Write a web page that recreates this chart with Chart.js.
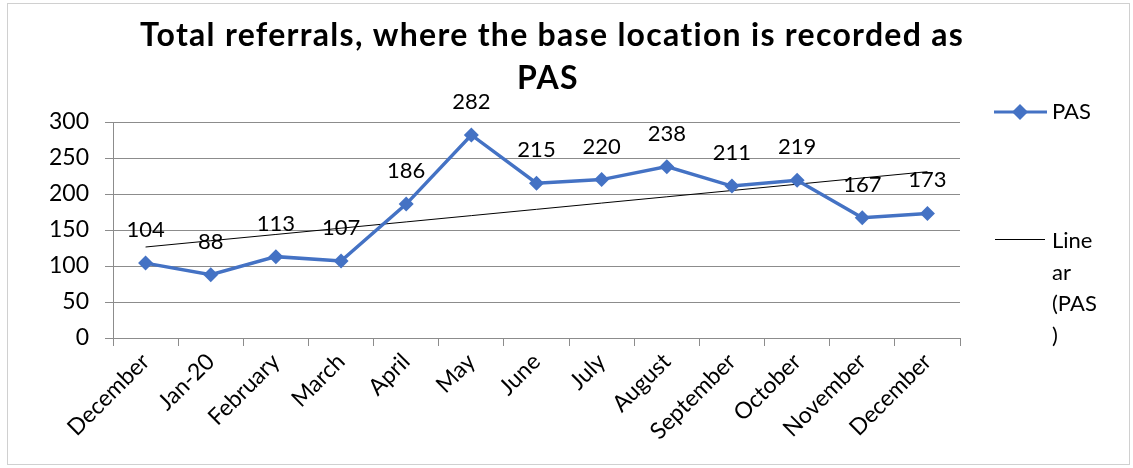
<!DOCTYPE html>
<html>
<head>
<meta charset="utf-8">
<script src="https://cdn.jsdelivr.net/npm/chart.js@4.4.1/dist/chart.umd.min.js"></script>
<style>
html,body{margin:0;padding:0;background:#fff;}
#wrap{width:1133px;height:468px;position:relative;}
</style>
</head>
<body>
<div id="wrap"><canvas id="c" width="1133" height="468"></canvas></div>
<script>
const categories = ["December","Jan-20","February","March","April","May","June","July","August","September","October","November","December"];
const pasValues = [104,88,113,107,186,282,215,220,238,211,219,167,173];
const yTicks = [0,50,100,150,200,250,300];
const titleLines = ["Total referrals, where the base location is recorded as","PAS"];
const legendPas = "PAS";
const legendTrendLines = ["Line","ar","(PAS",")"];

// Linear trendline (least squares) computed from the series, as Excel does
function linearTrend(vals){
  const n = vals.length;
  let sx=0, sy=0, sxy=0, sxx=0;
  vals.forEach((v,i)=>{sx+=i; sy+=v; sxy+=i*v; sxx+=i*i;});
  const b = (n*sxy - sx*sy)/(n*sxx - sx*sx);
  const a = (sy - b*sx)/n;
  return vals.map((_,i)=>a+b*i);
}
const trendValues = linearTrend(pasValues);

const FONT = "Lato, 'Liberation Sans', sans-serif";
const BLUE = "#4472C4";
const GRID = "#8c8c8c";

const framePlugin = {
  id:'frame',
  beforeDraw(chart){
    const ctx = chart.ctx;
    ctx.save();
    ctx.fillStyle = '#fff';
    ctx.fillRect(0,0,chart.width,chart.height);
    ctx.strokeStyle = '#d0d0d0';
    ctx.lineWidth = 1;
    ctx.strokeRect(7.5,3.5,1122,461);
    ctx.restore();
  },
  afterDraw(chart){
    const ctx = chart.ctx;
    ctx.save();
    // title
    ctx.fillStyle = '#000';
    ctx.font = "bold 32px " + FONT;
    ctx.textAlign = 'center';
    ctx.textBaseline = 'alphabetic';
    const w0 = ctx.measureText(titleLines[0]).width;
    const ls = Math.max(0, (825 - w0) / titleLines[0].length);
    if ('letterSpacing' in ctx) ctx.letterSpacing = ls.toFixed(2) + 'px';
    ctx.fillText(titleLines[0], 552, 46);
    ctx.fillText(titleLines[1], 548, 89);
    if ('letterSpacing' in ctx) ctx.letterSpacing = '0px';
    // legend
    ctx.textAlign = 'left';
    ctx.textBaseline = 'middle';
    ctx.font = "22px " + FONT;
    ctx.strokeStyle = BLUE; ctx.lineWidth = 3;
    ctx.beginPath(); ctx.moveTo(994,112); ctx.lineTo(1047,112); ctx.stroke();
    ctx.fillStyle = BLUE;
    ctx.beginPath(); ctx.moveTo(1020,104); ctx.lineTo(1028,112); ctx.lineTo(1020,120); ctx.lineTo(1012,112); ctx.closePath(); ctx.fill();
    ctx.fillStyle = '#000';
    ctx.fillText(legendPas, 1052, 112);
    ctx.strokeStyle = '#000'; ctx.lineWidth = 1;
    ctx.beginPath(); ctx.moveTo(995,239.5); ctx.lineTo(1045,239.5); ctx.stroke();
    legendTrendLines.forEach((t,i)=>ctx.fillText(t, 1052, 241 + i*31.5));
    ctx.restore();
  }
};

const labelPlugin = {
  id:'dlabels',
  afterDatasetsDraw(chart){
    const ctx = chart.ctx;
    const meta = chart.getDatasetMeta(0);
    ctx.save();
    ctx.fillStyle = '#000';
    ctx.font = "22px " + FONT;
    ctx.textAlign = 'center';
    ctx.textBaseline = 'alphabetic';
    meta.data.forEach((pt,i)=>{
      ctx.fillText(String(pasValues[i]), pt.x, pt.y - 26);
    });
    ctx.restore();
  }
};

new Chart(document.getElementById('c'), {
  type:'line',
  data:{
    labels: categories,
    datasets:[
      {label:'PAS', data:pasValues, borderColor:BLUE, backgroundColor:BLUE, borderWidth:3.5,
       pointStyle:'rectRot', pointRadius:7.5, pointHoverRadius:7.5, pointBackgroundColor:BLUE, pointBorderWidth:0, tension:0, order:1},
      {label:'Linear (PAS)', data:trendValues, borderColor:'#000', borderWidth:1, pointRadius:0, tension:0, order:2}
    ]
  },
  plugins:[framePlugin,labelPlugin],
  options:{
    responsive:false,
    animation:false,
    events:[],
    layout:{padding:{top:122,right:173,left:0,bottom:0}},
    plugins:{legend:{display:false}, title:{display:false}, tooltip:{enabled:false}},
    scales:{
      x:{
        offset:true,
        grid:{offset:true, drawOnChartArea:false, drawTicks:true, tickLength:8, color:GRID},
        border:{color:GRID, width:1},
        ticks:{minRotation:45, maxRotation:45, color:'#000', font:{family:FONT, size:23}, padding:2, autoSkip:false},
        afterFit(s){ s.height = 130; }
      },
      y:{
        min:0, max:300,
        afterBuildTicks(s){ s.ticks = yTicks.map(v=>({value:v})); },
        grid:{color:GRID, tickLength:8, drawTicks:true},
        border:{color:GRID, width:1},
        ticks:{color:'#000', font:{family:FONT, size:23}, padding:16},
        afterFit(s){ s.width = 113; }
      }
    }
  }
});
</script>
</body>
</html>
